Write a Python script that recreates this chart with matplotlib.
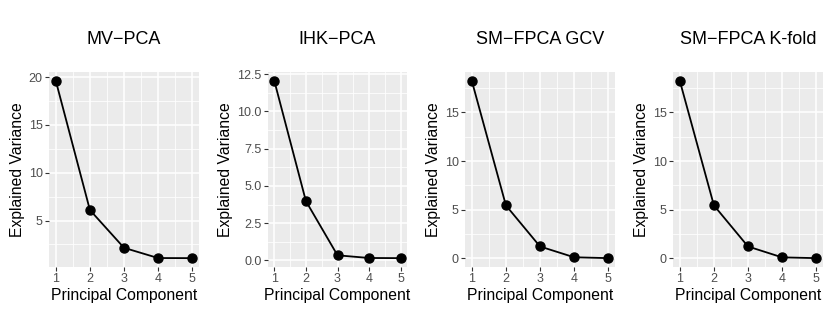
import matplotlib.pyplot as plt
from matplotlib.ticker import FixedLocator

plt.rcParams['font.family'] = ['Liberation Sans', 'DejaVu Sans']

components = [1, 2, 3, 4, 5]
titles = ["MV\u2212PCA", "IHK\u2212PCA", "SM\u2212FPCA GCV", "SM\u2212FPCA K-fold"]
mv_pca = [19.6, 6.1, 2.15, 1.08, 1.07]
ihk_pca = [12.05, 3.98, 0.34, 0.16, 0.15]
sm_gcv = [18.25, 5.43, 1.2, 0.09, 0.0]
sm_kfold = [18.25, 5.43, 1.2, 0.08, 0.0]
series = [mv_pca, ihk_pca, sm_gcv, sm_kfold]

y_breaks = [[5, 10, 15, 20], [0, 2.5, 5, 7.5, 10, 12.5], [0, 5, 10, 15], [0, 5, 10, 15]]
y_fmt = ["{:.0f}", "{:.1f}", "{:.0f}", "{:.0f}"]

# panel extents in pixels (left, right)
W, H = 830, 312
panels_x = [(49, 199), (268, 407), (465, 615), (673, 823)]
top, bottom = 72, 267

fig = plt.figure(figsize=(W / 100, H / 100), dpi=100, facecolor="white")

for i in range(4):
    l, r = panels_x[i]
    ax = fig.add_axes([l / W, 1 - bottom / H, (r - l) / W, (bottom - top) / H])
    ax.set_facecolor("#EBEBEB")
    for s in ax.spines.values():
        s.set_visible(False)

    vals = series[i]
    lo, hi = min(vals), max(vals)
    pad = (hi - lo) * 0.05
    ax.set_ylim(lo - pad, hi + pad)
    ax.set_xlim(0.8, 5.2)

    yb = y_breaks[i]
    ax.yaxis.set_major_locator(FixedLocator(yb))
    ax.set_yticklabels([y_fmt[i].format(v) for v in yb])
    step = yb[1] - yb[0]
    minor_y = [yb[0] - step / 2] + [v + step / 2 for v in yb]
    ax.yaxis.set_minor_locator(FixedLocator(minor_y))
    ax.xaxis.set_major_locator(FixedLocator(components))
    ax.xaxis.set_minor_locator(FixedLocator([1.5, 2.5, 3.5, 4.5]))

    ax.grid(which="major", color="white", linewidth=1.1)
    ax.grid(which="minor", color="white", linewidth=0.55)
    ax.set_axisbelow(True)
    ax.tick_params(which="major", length=3, width=0.8, color="#333333",
                   labelcolor="#4D4D4D", labelsize=9, pad=1.5)
    ax.tick_params(which="minor", length=0)

    ax.plot(components, vals, color="black", linewidth=1.3, marker="o",
            markersize=6.5, zorder=3)

    ax.set_title(titles[i], fontsize=13, pad=20)
    ax.set_xlabel("Principal Component", fontsize=11.3, labelpad=2)
    ax.set_ylabel("Explained Variance", fontsize=11.3, labelpad=3)

fig.savefig("out.png", dpi=100)
